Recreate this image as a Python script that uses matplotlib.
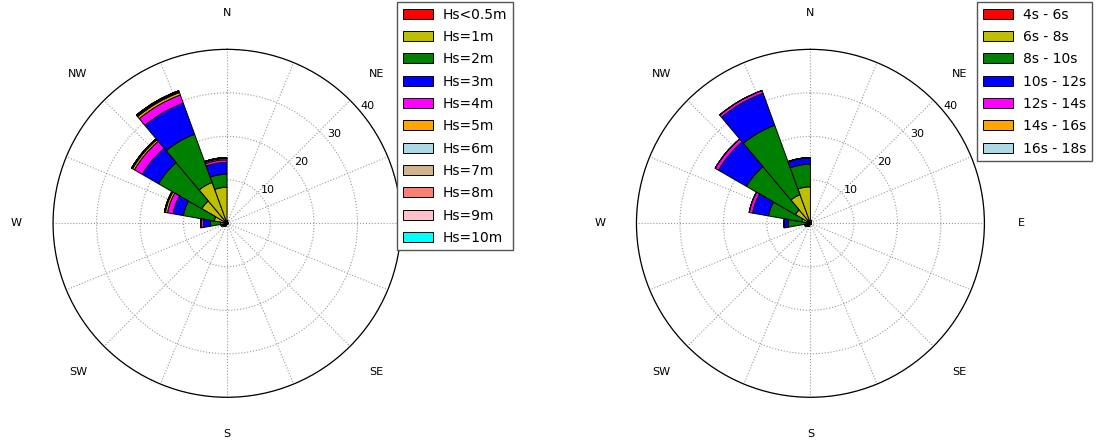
import numpy as np
import matplotlib
matplotlib.use('Agg')
import matplotlib.pyplot as plt
from matplotlib.patches import Patch

# compass sectors, 20 deg wide, given by their first (anticlockwise) edge
directions = list(range(0, 360, 20))

# ---- wave height rose (left) ----
hs_labels = ['Hs<0.5m', 'Hs=1m', 'Hs=2m', 'Hs=3m', 'Hs=4m', 'Hs=5m',
             'Hs=6m', 'Hs=7m', 'Hs=8m', 'Hs=9m', 'Hs=10m']
hs_colors = ['red', 'y', 'g', 'b', 'magenta', 'orange',
             'lightblue', 'tan', 'salmon', 'pink', 'cyan']
#          0    20   40   60   80  100  120  140  160  180  200  220  240  260  280  300  320  340
hs_05  = [0.3, 0.2, 0.2, 0.2, 0.2, 0.2, 0.2, 0.2, 0.2, 0.3, 0.4, 0.4, 0.4, 0.3, 0.3, 0.3, 0.3, 0.3]
hs_1   = [0.3, 0.0, 0.0, 0.0, 0.0, 0.0, 0.0, 0.0, 0.0, 0.0, 0.3, 0.4, 0.6, 1.2, 2.7, 6.4, 9.7, 8.0]
hs_2   = [0.0, 0.0, 0.0, 0.0, 0.0, 0.0, 0.0, 0.0, 0.0, 0.0, 0.1, 0.2, 0.3, 2.3, 7.2, 11.5, 11.8, 3.0]
hs_3   = [0.0, 0.0, 0.0, 0.0, 0.0, 0.0, 0.0, 0.0, 0.0, 0.0, 0.0, 0.0, 0.1, 1.6, 2.4, 4.3, 7.6, 2.7]
hs_4   = [0.0, 0.0, 0.0, 0.0, 0.0, 0.0, 0.0, 0.0, 0.0, 0.0, 0.0, 0.0, 0.0, 0.5, 1.3, 2.1, 2.0, 0.6]
hs_5   = [0.0, 0.0, 0.0, 0.0, 0.0, 0.0, 0.0, 0.0, 0.0, 0.0, 0.0, 0.0, 0.0, 0.2, 0.5, 0.5, 0.6, 0.3]
hs_6   = [0.0, 0.0, 0.0, 0.0, 0.0, 0.0, 0.0, 0.0, 0.0, 0.0, 0.0, 0.0, 0.0, 0.0, 0.1, 0.1, 0.15, 0.1]
hs_7   = [0.0, 0.0, 0.0, 0.0, 0.0, 0.0, 0.0, 0.0, 0.0, 0.0, 0.0, 0.0, 0.0, 0.0, 0.1, 0.1, 0.15, 0.1]
hs_8   = [0.0, 0.0, 0.0, 0.0, 0.0, 0.0, 0.0, 0.0, 0.0, 0.0, 0.0, 0.0, 0.0, 0.0, 0.0, 0.05, 0.1, 0.0]
hs_9   = [0.0, 0.0, 0.0, 0.0, 0.0, 0.0, 0.0, 0.0, 0.0, 0.0, 0.0, 0.0, 0.0, 0.0, 0.0, 0.0, 0.05, 0.0]
hs_10  = [0.0] * 18

# ---- wave period rose (right) ----
tp_labels = ['4s - 6s', '6s - 8s', '8s - 10s', '10s - 12s',
             '12s - 14s', '14s - 16s', '16s - 18s']
tp_colors = ['red', 'y', 'g', 'b', 'magenta', 'orange', 'lightblue']
#          0    20   40   60   80  100  120  140  160  180  200  220  240  260  280  300  320  340
tp_4   = [0.3, 0.2, 0.2, 0.2, 0.2, 0.2, 0.2, 0.2, 0.2, 0.3, 0.4, 0.4, 0.4, 0.2, 0.2, 0.2, 0.2, 0.2]
tp_6   = [0.3, 0.0, 0.0, 0.0, 0.0, 0.0, 0.0, 0.0, 0.0, 0.0, 0.3, 0.4, 0.5, 0.8, 1.8, 3.8, 6.8, 8.2]
tp_8   = [0.0, 0.0, 0.0, 0.0, 0.0, 0.0, 0.0, 0.0, 0.0, 0.0, 0.1, 0.2, 0.4, 4.1, 7.8, 13.0, 17.0, 5.2]
tp_10  = [0.0, 0.0, 0.0, 0.0, 0.0, 0.0, 0.0, 0.0, 0.0, 0.0, 0.0, 0.0, 0.0, 0.9, 3.7, 7.4, 7.8, 1.4]
tp_12  = [0.0, 0.0, 0.0, 0.0, 0.0, 0.0, 0.0, 0.0, 0.0, 0.0, 0.0, 0.0, 0.0, 0.1, 0.8, 0.9, 0.7, 0.1]
tp_14  = [0.0] * 18
tp_16  = [0.0] * 18

compass = ['N', '', 'NE', '', 'E', '', 'SE', '', 'S', '', 'SW', '', 'W', '', 'NW', '']


def draw_rose(ax, series, colors, labels, legend_anchor):
    """Stacked polar bars, windrose style."""
    ax.set_theta_zero_location('N')
    ax.set_theta_direction(-1)

    theta = np.radians(directions)
    offset = np.zeros(len(directions))
    for vals, color in zip(series, colors):
        vals = np.array(vals)
        ax.bar(theta, vals, width=np.radians(20), bottom=offset, align='edge',
               color=color, edgecolor='black', linewidth=0.7, zorder=3)
        offset = offset + vals

    ax.set_ylim(0, 40)
    ax.set_rgrids([10, 20, 30, 40], labels=['10', '20', '30', '40'], fontsize=8)
    ax.set_rlabel_position(50)
    ax.set_thetagrids(np.arange(0, 360, 22.5), labels=compass, fontsize=8)
    ax.tick_params(axis='x', pad=16)
    ax.grid(True, color='#9a9a9a', linestyle=':', linewidth=0.8)
    ax.spines['polar'].set_linewidth(0.9)

    handles = [Patch(facecolor=c, edgecolor='black', linewidth=0.7) for c in colors]
    ax.legend(handles, labels, loc='upper left', bbox_to_anchor=legend_anchor,
              bbox_transform=ax.figure.transFigure, fontsize=10,
              fancybox=False, edgecolor='#555555', framealpha=1,
              handlelength=2.2, handleheight=0.7, borderpad=0.4,
              labelspacing=0.6, handletextpad=0.7, borderaxespad=0)


fig = plt.figure(figsize=(10.96, 4.41), dpi=100)

ax1 = fig.add_axes([0.0484, 0.0991, 0.3175, 0.789], projection='polar')
draw_rose(ax1, [hs_05, hs_1, hs_2, hs_3, hs_4, hs_5, hs_6, hs_7, hs_8, hs_9, hs_10],
          hs_colors, hs_labels, (0.3622, 0.9955))

ax2 = fig.add_axes([0.5807, 0.0991, 0.3175, 0.789], projection='polar')
draw_rose(ax2, [tp_4, tp_6, tp_8, tp_10, tp_12, tp_14, tp_16],
          tp_colors, tp_labels, (0.8914, 0.9955))

fig.savefig('out.png', dpi=100)
